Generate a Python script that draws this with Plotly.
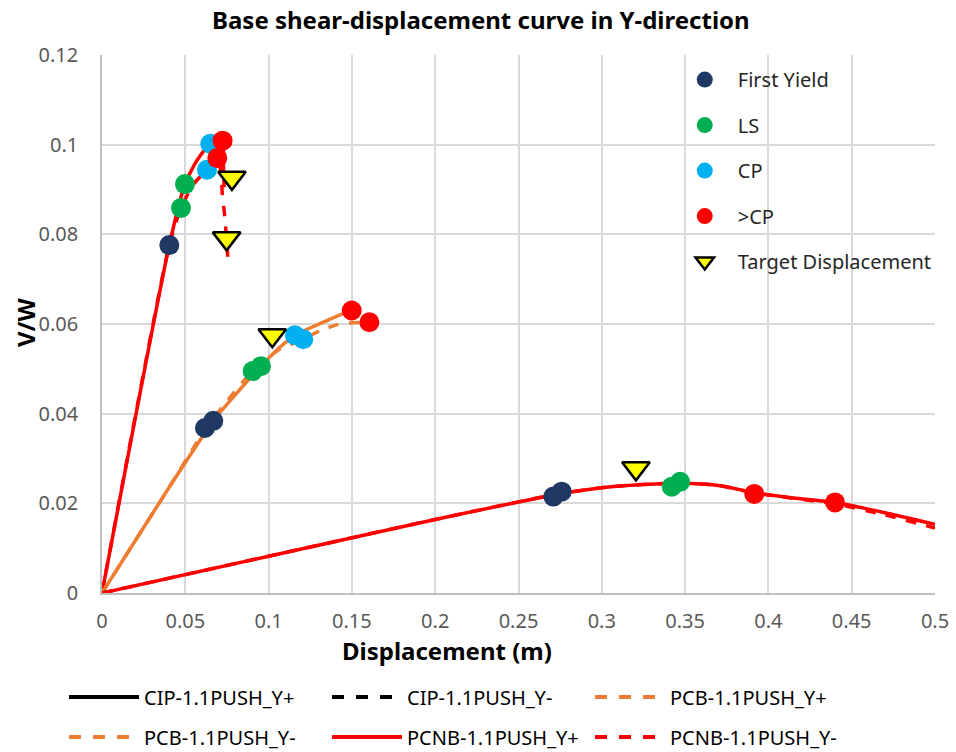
import plotly.graph_objects as go

# ---- Pushover curves (displacement in m, V/W) ----
cip_pos_x = [0, 0.0404, 0.0498, 0.0570, 0.0650, 0.0724, 0.0728, 0.0733]
cip_pos_y = [0, 0.0776, 0.0912, 0.0965, 0.1002, 0.1009, 0.0965, 0.0905]
cip_neg_x = [0, 0.0404, 0.0474, 0.0550, 0.0630, 0.0692, 0.0715, 0.0722, 0.0737, 0.0755]
cip_neg_y = [0, 0.0776, 0.0859, 0.0912, 0.0944, 0.0970, 0.0935, 0.0890, 0.0840, 0.0750]

pcb_pos_x = [0, 0.0400, 0.0668, 0.0800, 0.0954, 0.1068, 0.1158, 0.1329, 0.1440, 0.1499]
pcb_pos_y = [0, 0.0234, 0.0384, 0.0442, 0.0506, 0.0548, 0.0575, 0.0604, 0.0622, 0.0630]
pcb_neg_x = [0, 0.0400, 0.0618, 0.0750, 0.0904, 0.1050, 0.1208, 0.1309, 0.1408, 0.1505, 0.1605]
pcb_neg_y = [0, 0.0234, 0.0364, 0.0428, 0.0495, 0.0540, 0.0566, 0.0585, 0.0598, 0.0603, 0.0604]

pcnb_pos_x = [0, 0.10, 0.20, 0.2759, 0.30, 0.32, 0.347, 0.37, 0.3915, 0.415, 0.44, 0.47, 0.50]
pcnb_pos_y = [0, 0.0082, 0.0164, 0.0222, 0.0235, 0.0241, 0.0245, 0.0240, 0.0224, 0.0212, 0.0202, 0.0179, 0.0153]
pcnb_neg_x = [0, 0.10, 0.20, 0.2709, 0.30, 0.32, 0.342, 0.37, 0.3915, 0.415, 0.44, 0.47, 0.50]
pcnb_neg_y = [0, 0.0082, 0.0164, 0.0219, 0.0235, 0.0241, 0.0245, 0.0240, 0.0223, 0.0211, 0.0199, 0.0174, 0.0145]

# ---- Performance points ----
yield_x = [0.0404, 0.0618, 0.0668, 0.2709, 0.2759]
yield_y = [0.0776, 0.0368, 0.0384, 0.0215, 0.0226]
ls_x = [0.0498, 0.0474, 0.0954, 0.0904, 0.3470, 0.3420]
ls_y = [0.0912, 0.0859, 0.0506, 0.0495, 0.0248, 0.0237]
cp_x = [0.0650, 0.0630, 0.1158, 0.1208]
cp_y = [0.1002, 0.0944, 0.0575, 0.0566]
gtcp_x = [0.0724, 0.0692, 0.1499, 0.1605, 0.3915, 0.4400]
gtcp_y = [0.1009, 0.0970, 0.0630, 0.0604, 0.0221, 0.0202]
target_x = [0.0780, 0.0748, 0.1022, 0.3205]
target_y = [0.0926, 0.0791, 0.0575, 0.0278]

x_ticks = [0, 0.05, 0.1, 0.15, 0.2, 0.25, 0.3, 0.35, 0.4, 0.45, 0.5]
y_ticks = [0, 0.02, 0.04, 0.06, 0.08, 0.1, 0.12]

RED = "#FF0000"
ORANGE = "#ED7D31"
FONT = "Noto Sans"

fig = go.Figure()

curves = [
    (cip_pos_x, cip_pos_y, RED, "solid"),
    (cip_neg_x, cip_neg_y, RED, "dash"),
    (pcb_pos_x, pcb_pos_y, ORANGE, "solid"),
    (pcb_neg_x, pcb_neg_y, ORANGE, "dash"),
    (pcnb_pos_x, pcnb_pos_y, RED, "solid"),
    (pcnb_neg_x, pcnb_neg_y, RED, "dash"),
]
for cx, cy, col, dash in curves:
    fig.add_trace(go.Scatter(x=cx, y=cy, mode="lines", showlegend=False,
                             hoverinfo="skip",
                             line=dict(color=col, width=3.5, dash=dash, shape="spline",
                                       smoothing=0.6)))

# Series key for the line styles (two rows of three under the axis)
line_keys = [
    ("CIP-1.1PUSH_Y+", "#000000", "solid", "legend"),
    ("CIP-1.1PUSH_Y-", "#000000", "dash", "legend"),
    ("PCB-1.1PUSH_Y+", ORANGE, "dash", "legend"),
    ("PCB-1.1PUSH_Y-", ORANGE, "dash", "legend3"),
    ("PCNB-1.1PUSH_Y+", RED, "solid", "legend3"),
    ("PCNB-1.1PUSH_Y-", RED, "dash", "legend3"),
]
for name, col, dash, leg in line_keys:
    fig.add_trace(go.Scatter(x=[None], y=[None], mode="lines", name=name,
                             legend=leg,
                             line=dict(color=col, width=4, dash=dash)))

points = [
    ("First Yield", yield_x, yield_y, "#203864", "circle", 20, 0),
    ("LS", ls_x, ls_y, "#00B050", "circle", 20, 0),
    ("CP", cp_x, cp_y, "#00B0F0", "circle", 20, 0),
    (">CP", gtcp_x, gtcp_y, RED, "circle", 20, 0),
    ("Target Displacement", target_x, target_y, "#FFFF00", "triangle-down", 24, 2.5),
]
for i, (name, px, py, col, sym, size, lw) in enumerate(points):
    fig.add_trace(go.Scatter(x=px, y=py, mode="markers", name=name,
                             legend="legend2", legendgroup=f"g{i}",
                             marker=dict(color=col, symbol=sym, size=size,
                                         line=dict(color="#000000", width=lw))))

row_legend = dict(orientation="h", x=-0.0456, xanchor="left", yanchor="middle",
                  entrywidth=178, entrywidthmode="pixels", itemwidth=70,
                  font=dict(family=FONT, size=20, color="#000000"),
                  bgcolor="rgba(0,0,0,0)")

fig.update_layout(
    width=956, height=752,
    margin=dict(l=102, r=21, t=55, b=159, autoexpand=False),
    paper_bgcolor="white", plot_bgcolor="white",
    font=dict(family=FONT, size=20, color="#595959"),
    showlegend=True,
    legend=dict(row_legend, y=-(697 - 593) / 538),
    legend3=dict(row_legend, y=-(737 - 593) / 538),
    legend2=dict(orientation="v", x=0.684, y=0.9906, xanchor="left", yanchor="top",
                 font=dict(family=FONT, size=20, color="#262626"),
                 itemsizing="trace", itemwidth=56, tracegroupgap=16.5,
                 bgcolor="rgba(0,0,0,0)"),
    annotations=[
        dict(text="<b>Base shear-displacement curve in Y-direction</b>",
             xref="paper", yref="paper", x=(481 - 102) / 833, y=1 + (55 - 20) / 538,
             xanchor="center", yanchor="middle", showarrow=False,
             font=dict(family=FONT, size=24, color="#000000")),
        dict(text="<b>Displacement (m)</b>",
             xref="paper", yref="paper", x=(447 - 102) / 833, y=-(650 - 593) / 538,
             xanchor="center", yanchor="middle", showarrow=False,
             font=dict(family=FONT, size=24, color="#000000")),
        dict(text="<b>V/W</b>", textangle=-90,
             xref="paper", yref="paper", x=-(102 - 25) / 833, y=(593 - 322) / 538,
             xanchor="center", yanchor="middle", showarrow=False,
             font=dict(family=FONT, size=24, color="#000000")),
    ],
)

fig.update_xaxes(range=[0, 0.5], tickvals=x_ticks, ticktext=[f"{v:g}" for v in x_ticks],
                 showgrid=True, gridcolor="#D9D9D9", gridwidth=1.5,
                 showline=True, linecolor="#BFBFBF", linewidth=1.5,
                 zeroline=False, ticks="", ticklabelstandoff=9)
fig.update_yaxes(range=[0, 0.12], tickvals=y_ticks, ticktext=[f"{v:g}" for v in y_ticks],
                 showgrid=True, gridcolor="#D9D9D9", gridwidth=1.5,
                 showline=True, linecolor="#BFBFBF", linewidth=1.5,
                 zeroline=False, ticks="", ticklabelstandoff=18)

fig.write_html("out.html")
